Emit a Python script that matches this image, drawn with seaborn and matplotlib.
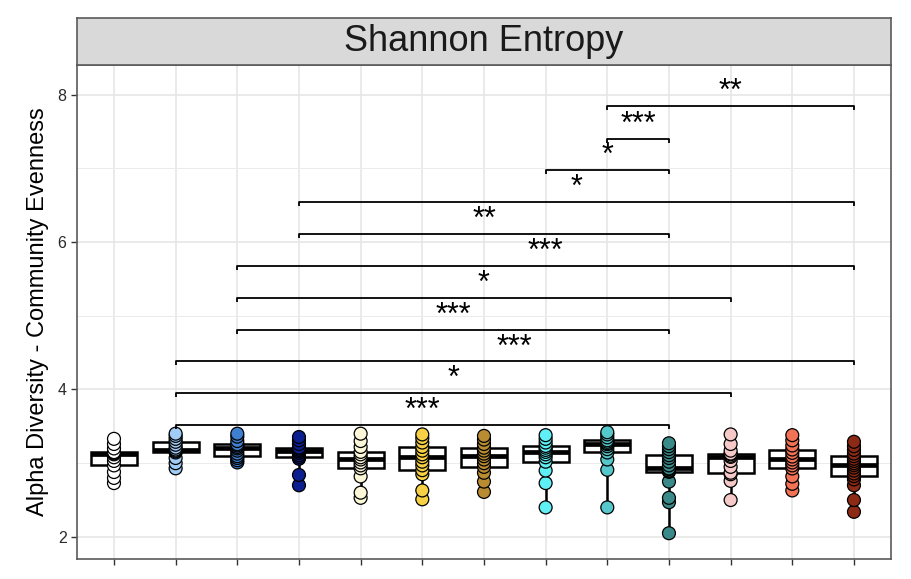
import numpy as np
import pandas as pd
import matplotlib.pyplot as plt
import seaborn as sns

sns.set_theme(style='white')
plt.rcParams['font.family'] = ['Liberation Sans', 'DejaVu Sans']

# groups (names are not printed on the chart)
groups = ['S1', 'S2', 'S3', 'S4', 'S5', 'S6', 'S7', 'S8', 'S9', 'S10', 'S11', 'S12', 'S13']
colors = ['#FFFFFF', '#A0CCF5', '#3F7FD0', '#0B1F8F', '#FBF7D8', '#F6D045', '#B98C32',
          '#5EF0F5', '#56C8CC', '#3A8A8A', '#F5C9C8', '#F27255', '#8C2A15']

# Shannon entropy per sample, one list per group
s1 = [2.73, 2.80, 2.88, 2.97, 3.03, 3.08, 3.12, 3.13, 3.14, 3.15, 3.20, 3.26, 3.33]
s2 = [2.93, 3.00, 3.07, 3.145, 3.16, 3.17, 3.185, 3.21, 3.25, 3.29, 3.33, 3.37, 3.40]
s3 = [3.01, 3.04, 3.07, 3.095, 3.13, 3.17, 3.20, 3.22, 3.24, 3.257, 3.30, 3.36, 3.40]
s4 = [2.70, 2.84, 3.06, 3.085, 3.11, 3.14, 3.16, 3.18, 3.20, 3.21, 3.26, 3.31, 3.355]
s5 = [2.53, 2.60, 2.82, 2.93, 2.97, 3.01, 3.05, 3.08, 3.12, 3.153, 3.22, 3.30, 3.40]
s6 = [2.51, 2.63, 2.85, 2.905, 2.97, 3.02, 3.08, 3.12, 3.17, 3.22, 3.28, 3.34, 3.39]
s7 = [2.61, 2.75, 2.87, 2.95, 3.00, 3.05, 3.095, 3.13, 3.17, 3.21, 3.26, 3.32, 3.37]
s8 = [2.40, 2.73, 2.90, 3.02, 3.08, 3.12, 3.153, 3.18, 3.21, 3.234, 3.28, 3.33, 3.38]
s9 = [2.40, 2.91, 3.05, 3.145, 3.19, 3.23, 3.257, 3.27, 3.29, 3.31, 3.35, 3.39, 3.42]
s10 = [2.05, 2.47, 2.53, 2.75, 2.883, 2.89, 2.90, 2.92, 2.928, 2.97, 3.02, 3.07, 3.108,
       3.15, 3.19, 3.23, 3.27]
s11 = [2.50, 2.76, 2.85, 2.87, 2.95, 3.03, 3.085, 3.10, 3.12, 3.13, 3.17, 3.26, 3.39]
s12 = [2.63, 2.72, 2.82, 2.928, 2.97, 3.01, 3.05, 3.09, 3.14, 3.185, 3.24, 3.31, 3.38]
s13 = [2.34, 2.50, 2.70, 2.78, 2.824, 2.86, 2.90, 2.94, 2.973, 3.00, 3.03, 3.06, 3.095,
       3.13, 3.18, 3.23, 3.29]
all_vals = [s1, s2, s3, s4, s5, s6, s7, s8, s9, s10, s11, s12, s13]

# significance comparisons: (group a, group b, label, bracket height)
comp_a = ['S2', 'S2', 'S2', 'S3', 'S3', 'S3', 'S4', 'S4', 'S8', 'S9', 'S9']
comp_b = ['S10', 'S11', 'S13', 'S10', 'S11', 'S13', 'S10', 'S13', 'S10', 'S10', 'S13']
comp_lab = ['***', '*', '***', '***', '*', '***', '**', '*', '*', '***', '**']
comp_y = [3.52, 3.95, 4.38, 4.81, 5.24, 5.68, 6.11, 6.54, 6.98, 7.40, 7.85]

df = pd.DataFrame({
    'group': np.repeat(groups, [len(v) for v in all_vals]),
    'shannon': np.concatenate(all_vals),
})

fig = plt.figure(figsize=(9.11, 5.79), dpi=100)
ax = fig.add_axes([0.0845, 0.0345, 0.8935, 0.8532])

sns.boxplot(data=df, x='group', y='shannon', order=groups, color='white', saturation=1,
            width=0.75, showfliers=False, showcaps=False, whis=(0, 100), linecolor='black',
            linewidth=1.8, medianprops=dict(linewidth=3.4), ax=ax)
sns.stripplot(data=df, x='group', y='shannon', order=groups, hue='group', hue_order=groups,
              palette=colors, jitter=False, size=9.3, edgecolor='black', linewidth=0.9,
              legend=False, ax=ax, zorder=3)

# brackets
tip = 0.055
for a, b, lab, y in zip(comp_a, comp_b, comp_lab, comp_y):
    x1, x2 = groups.index(a), groups.index(b)
    ax.plot([x1, x1, x2, x2], [y - tip, y, y, y - tip], color='black', lw=1.3,
            solid_capstyle='butt', zorder=4)
    ax.text((x1 + x2) / 2, y + 0.08, lab, ha='center', va='baseline', fontsize=22,
            color='black', zorder=4)

ax.set_xlim(-0.6, 12.6)
ax.set_ylim(1.70, 8.40)
ax.set_yticks([2, 4, 6, 8])
ax.set_yticks([3, 5, 7], minor=True)
ax.set_xticks(range(len(groups)))
ax.set_xticklabels([])
ax.set_xlabel('')
ax.set_ylabel('Alpha Diversity - Community Evenness', fontsize=17, color='black', labelpad=6)

ax.set_axisbelow(True)
ax.grid(True, which='major', color='#E6E6E6', lw=1.2)
ax.grid(True, which='minor', axis='y', color='#EBEBEB', lw=0.7)
ax.tick_params(axis='both', which='major', length=4, width=1, color='#333333',
               labelsize=11.5, labelcolor='#2A2A2A', bottom=True, left=True)
ax.tick_params(axis='y', which='minor', length=0)
for sp in ax.spines.values():
    sp.set_color('#5A5A5A')
    sp.set_linewidth(1.2)

# facet strip
strip = fig.add_axes([0.0845, 0.8877, 0.8935, 0.0812])
strip.set_facecolor('#D9D9D9')
strip.set_xticks([])
strip.set_yticks([])
for sp in strip.spines.values():
    sp.set_color('#5A5A5A')
    sp.set_linewidth(1.2)
strip.text(0.5, 0.5, 'Shannon Entropy', ha='center', va='center', fontsize=26,
           color='#1A1A1A', transform=strip.transAxes)

plt.savefig('out.png', dpi=100)
